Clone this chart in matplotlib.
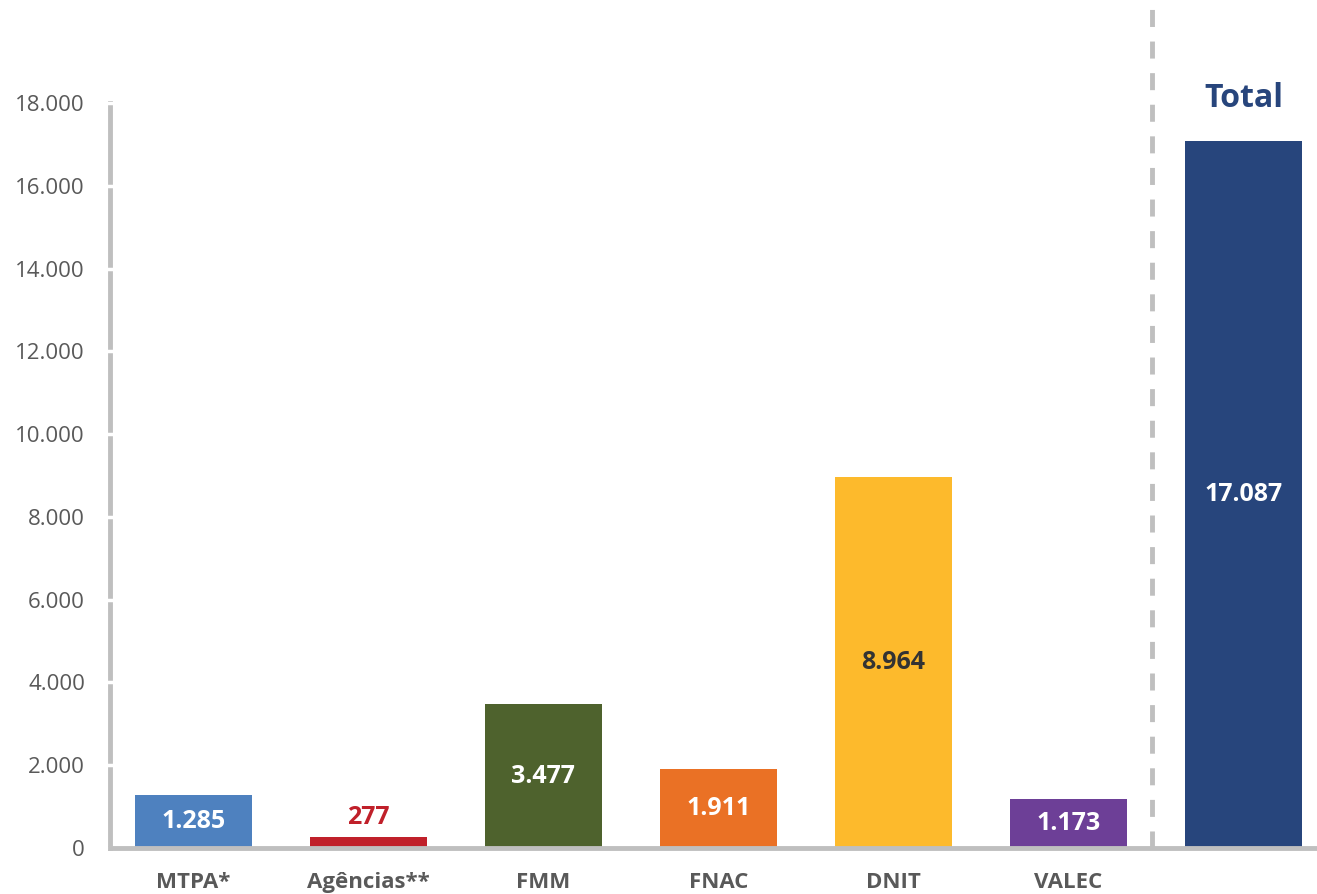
import matplotlib.pyplot as plt

plt.rcParams['font.family'] = ['Open Sans', 'DejaVu Sans']

categories = ['MTPA*', 'Agências**', 'FMM', 'FNAC', 'DNIT', 'VALEC', '']
values = [1285, 277, 3477, 1911, 8964, 1173, 17087]
labels = ['1.285', '277', '3.477', '1.911', '8.964', '1.173', '17.087']
colors = ['#4E81BF', '#C0202A', '#4E622D', '#EA7125', '#FDBA2C', '#6D3F97', '#27457C']
label_colors = ['white', '#C0202A', 'white', 'white', '#333333', 'white', 'white']
yticks = [0, 2000, 4000, 6000, 8000, 10000, 12000, 14000, 16000, 18000]
ytick_labels = ['0', '2.000', '4.000', '6.000', '8.000', '10.000', '12.000', '14.000', '16.000', '18.000']

fig = plt.figure(figsize=(13.17, 8.94), dpi=100)
W, H = 1317, 894
ax = fig.add_axes([110 / W, (H - 848) / H, (W - 110) / W, (848 - 103) / H])

x = list(range(len(values)))
ax.bar(x, values, width=0.67, color=colors, zorder=2)

for i, (v, lab) in enumerate(zip(values, labels)):
    if v < 500:
        ax.text(i, v + 150, lab, ha='center', va='bottom', fontsize=18,
                fontweight='bold', color=label_colors[i])
    else:
        ax.text(i, v / 2, lab, ha='center', va='center', fontsize=18,
                fontweight='bold', color=label_colors[i])

ax.text(6, 18100, 'Total', ha='center', va='center', fontsize=23,
        fontweight='bold', color='#27457C', clip_on=False)

# dashed separator before Total
ax.plot([5.48, 5.48], [0, 20500], color='#BFBFBF', lw=3.5,
        linestyle=(0, (3.5, 3.0)), clip_on=False, zorder=1)

ax.set_xlim(-0.475, 6.42)
ax.set_ylim(0, 18000)
ax.set_yticks(yticks)
ax.set_yticklabels(ytick_labels, fontsize=16, color='#595959')
ax.set_xticks(x)
ax.set_xticklabels(categories, fontsize=16, fontweight='bold', color='#595959')
ax.tick_params(axis='y', direction='inout', length=8, width=2.5, color='white', pad=14)
ax.tick_params(axis='x', length=0, pad=17)

for s in ['top', 'right']:
    ax.spines[s].set_visible(False)
ax.spines['left'].set_color('#BFBFBF')
ax.spines['left'].set_linewidth(3.5)
ax.spines['bottom'].set_color('#BFBFBF')
ax.spines['bottom'].set_linewidth(3.5)
ax.spines['bottom'].set_zorder(4)
ax.yaxis.set_zorder(3)

fig.savefig('out.png', dpi=100)
